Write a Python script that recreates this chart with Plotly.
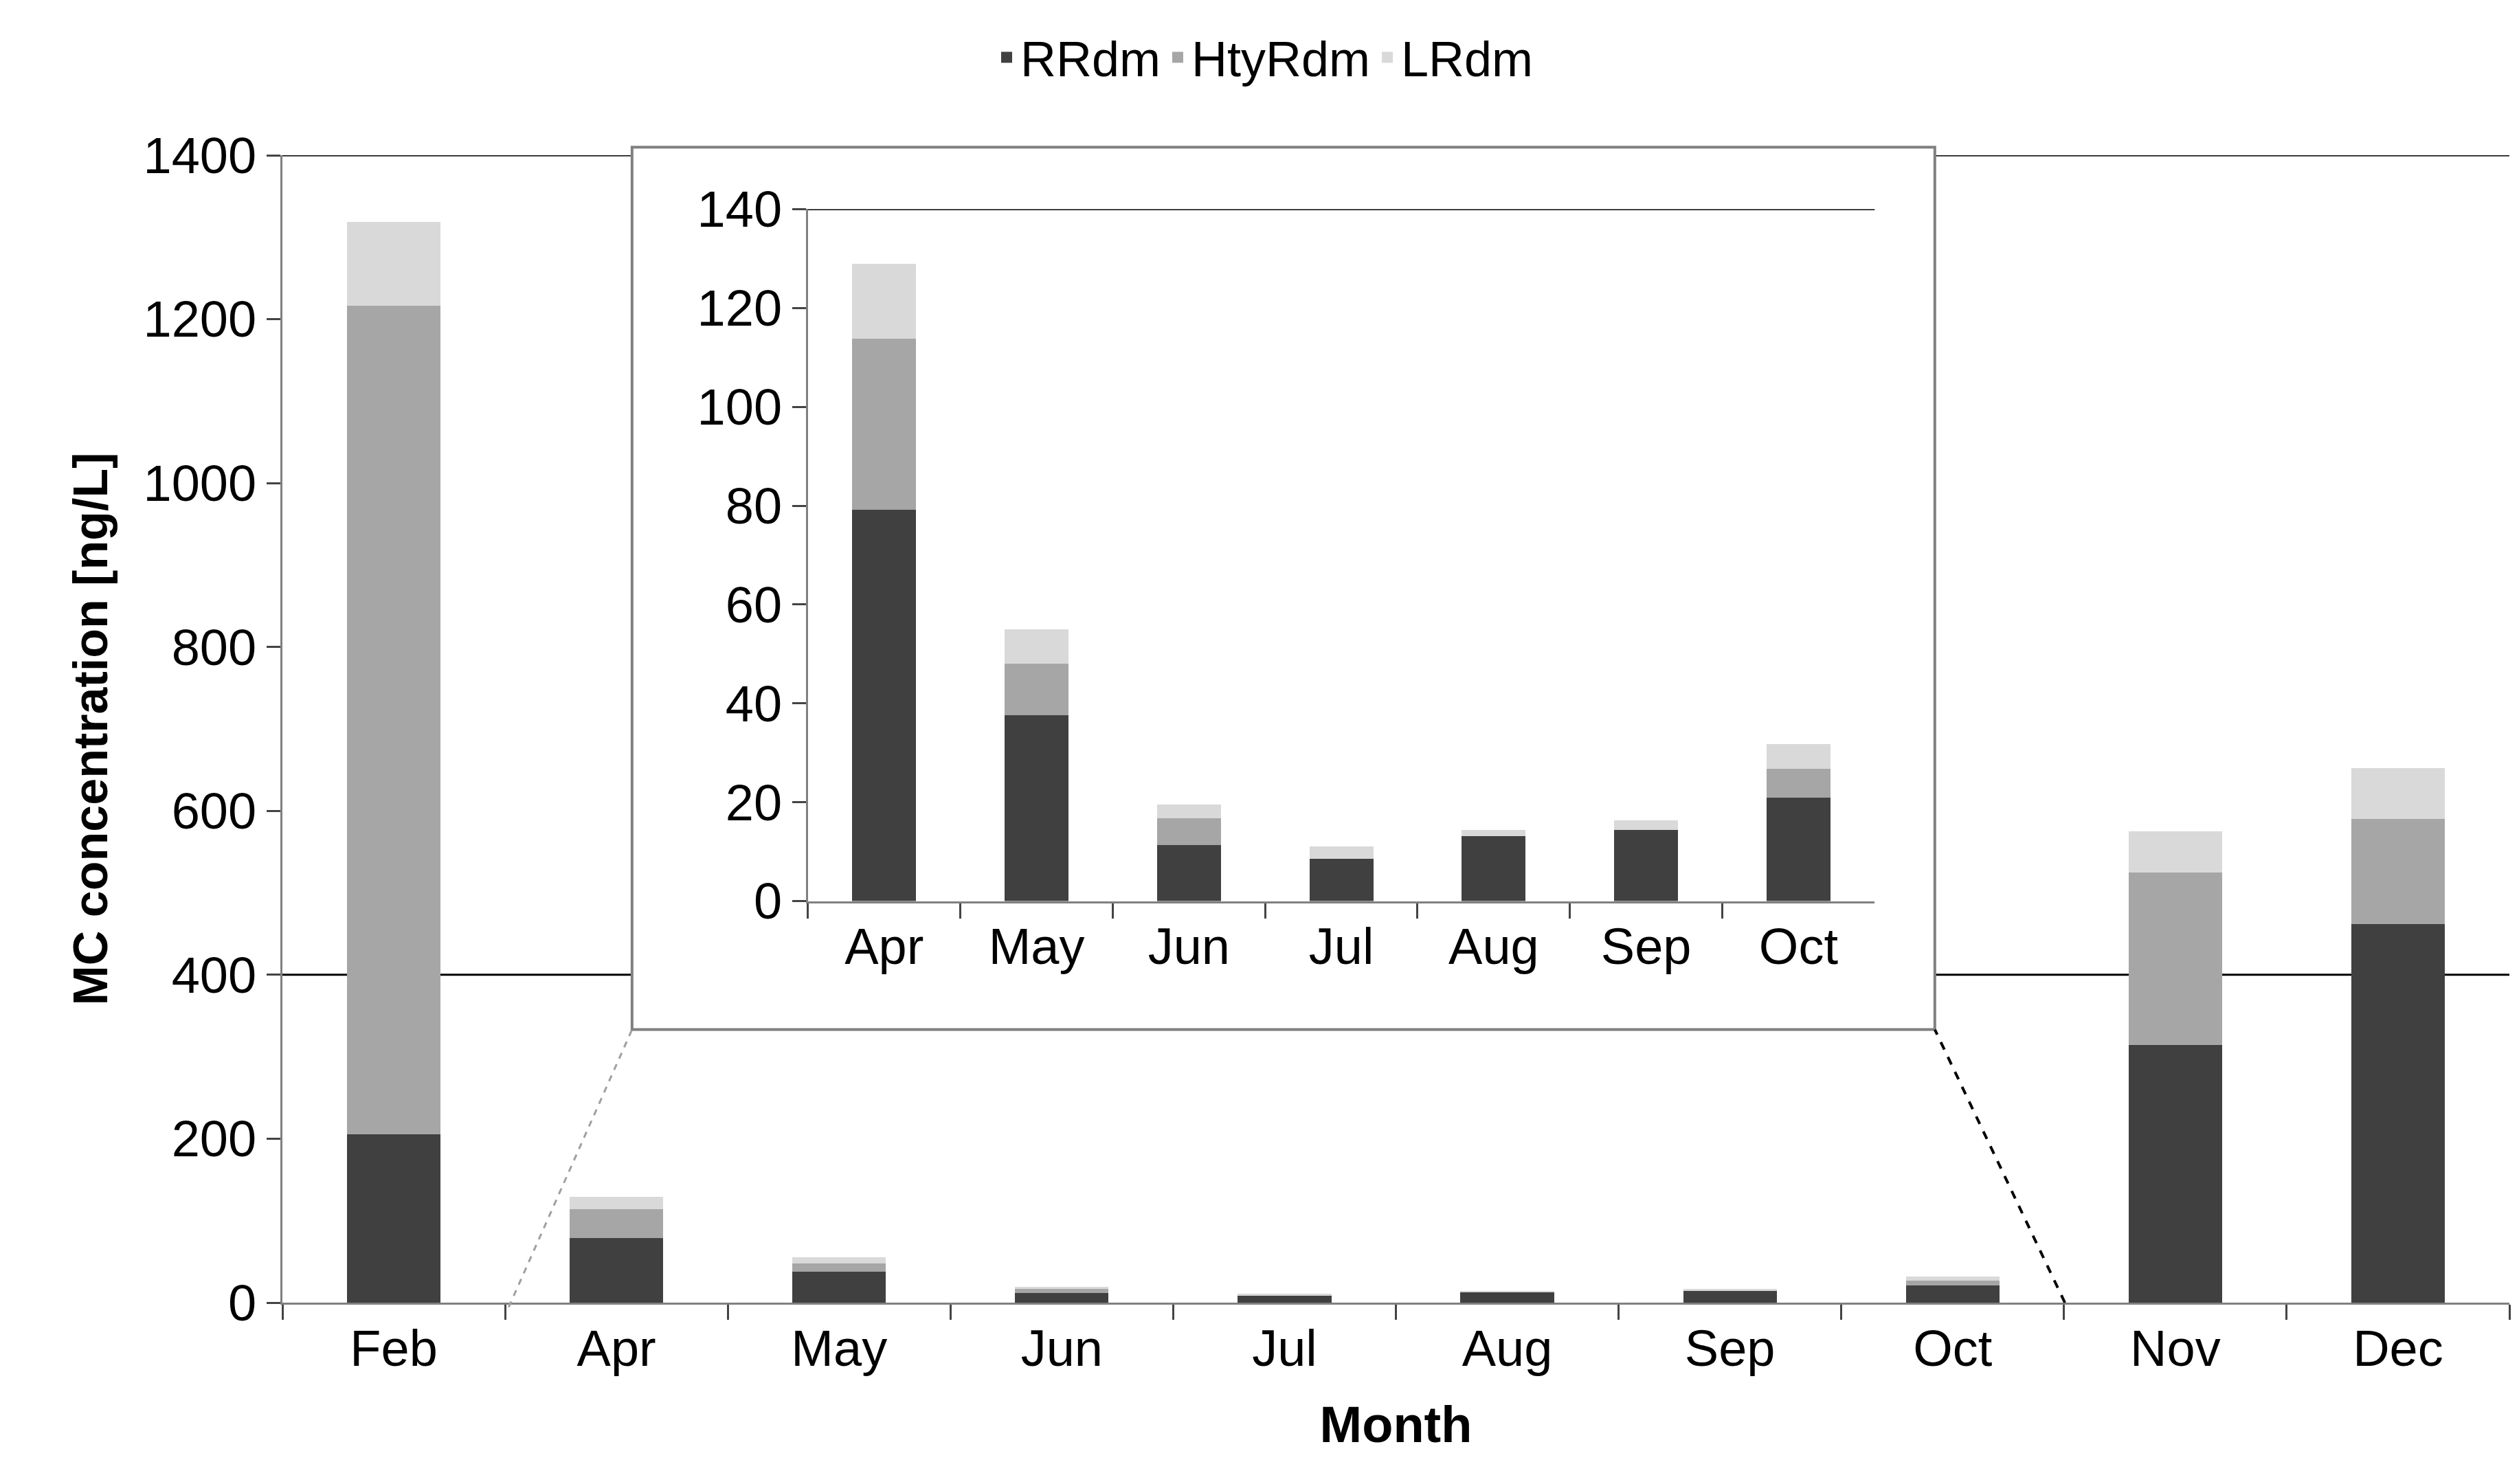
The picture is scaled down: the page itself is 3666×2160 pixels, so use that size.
import plotly.graph_objects as go

months = ["Feb","Apr","May","Jun","Jul","Aug","Sep","Oct","Nov","Dec"]
rr  = [205, 79.2, 37.6, 11.4, 8.5, 13.1, 14.4, 20.9, 314, 462]
hty = [1011, 34.6, 10.4, 5.3, 0, 0, 0, 5.9, 211, 128]
lr  = [103, 15.2, 7, 2.9, 2.6, 1.3, 2.0, 4.9, 50, 62]
inset_months = months[1:8]
in_rr, in_hty, in_lr = rr[1:8], hty[1:8], lr[1:8]

cols = {"RRdm": "#404040", "HtyRdm": "#a6a6a6", "LRdm": "#d9d9d9"}
F = "Liberation Sans, Arial"
fig = go.Figure()
for name, vals in [("RRdm", rr), ("HtyRdm", hty), ("LRdm", lr)]:
    fig.add_bar(x=months, y=vals, name=name, marker_color=cols[name], marker_line_width=0, showlegend=False)
for name, vals in [("RRdm", in_rr), ("HtyRdm", in_hty), ("LRdm", in_lr)]:
    fig.add_bar(x=inset_months, y=vals, name=name, marker_color=cols[name], marker_line_width=0,
                xaxis="x2", yaxis="y2", showlegend=False)
for name in ["RRdm", "HtyRdm", "LRdm"]:
    fig.add_scatter(x=[None], y=[None], mode="markers", name=name,
                    marker=dict(symbol="square", size=40, color=cols[name]))

shapes = [
    dict(type="line", xref="paper", yref="y", x0=0, x1=1, y0=1400, y1=1400, line=dict(color="black", width=3), layer="below"),
    dict(type="line", xref="paper", yref="y", x0=0, x1=1, y0=400, y1=400, line=dict(color="black", width=3), layer="below"),
    dict(type="rect", xref="paper", yref="paper", x0=0.157, x1=0.742, y0=0.238, y1=1.007,
         fillcolor="white", line=dict(color="#808080", width=4), layer="below"),
    dict(type="line", xref="paper", yref="paper", x0=0.1016, x1=0.157, y0=-0.004, y1=0.238,
         line=dict(color="#a0a0a0", width=3, dash="dash")),
    dict(type="line", xref="paper", yref="paper", x0=0.8004, x1=0.742, y0=0.0, y1=0.238,
         line=dict(color="black", width=4, dash="dash")),
    dict(type="line", xref="x2 domain", yref="y2", x0=0, x1=1, y0=140, y1=140, line=dict(color="black", width=3)),
]

fig.update_layout(
    width=3666, height=2160, barmode="stack", bargap=0.58,
    plot_bgcolor="white", paper_bgcolor="white",
    font=dict(family=F, size=74, color="black"),
    margin=dict(l=403, r=22, t=218, b=272),
    shapes=shapes,
    legend=dict(orientation="h", x=0.5, xanchor="center", xref="container", yref="container",
                y=0.965, yanchor="middle", font=dict(size=72), traceorder="normal", itemwidth=30),
    xaxis=dict(type="category", tickson="boundaries", ticks="outside", ticklen=22, tickwidth=3,
               showline=True, linecolor="#808080", linewidth=3, showgrid=False,
               title=dict(text="<b>Month</b>", font=dict(size=74), standoff=45)),
    yaxis=dict(range=[0, 1400], dtick=200, showgrid=False, ticks="outside", ticklen=20, tickwidth=3,
               showline=True, linecolor="#808080", linewidth=3, zeroline=False,
               title=dict(text="<b>MC concentration [ng/L]</b>", font=dict(size=70), standoff=30)),
    xaxis2=dict(type="category", domain=[0.236, 0.715], anchor="y2", tickson="boundaries", ticks="outside",
                ticklen=22, tickwidth=3, showline=True, linecolor="#808080", linewidth=3, showgrid=False),
    yaxis2=dict(domain=[0.35, 0.953], anchor="x2", range=[0, 140], dtick=20, showgrid=False,
                ticks="outside", ticklen=20, tickwidth=3, showline=True, linecolor="#808080",
                linewidth=3, zeroline=False),
)
fig.write_html("out.html")
